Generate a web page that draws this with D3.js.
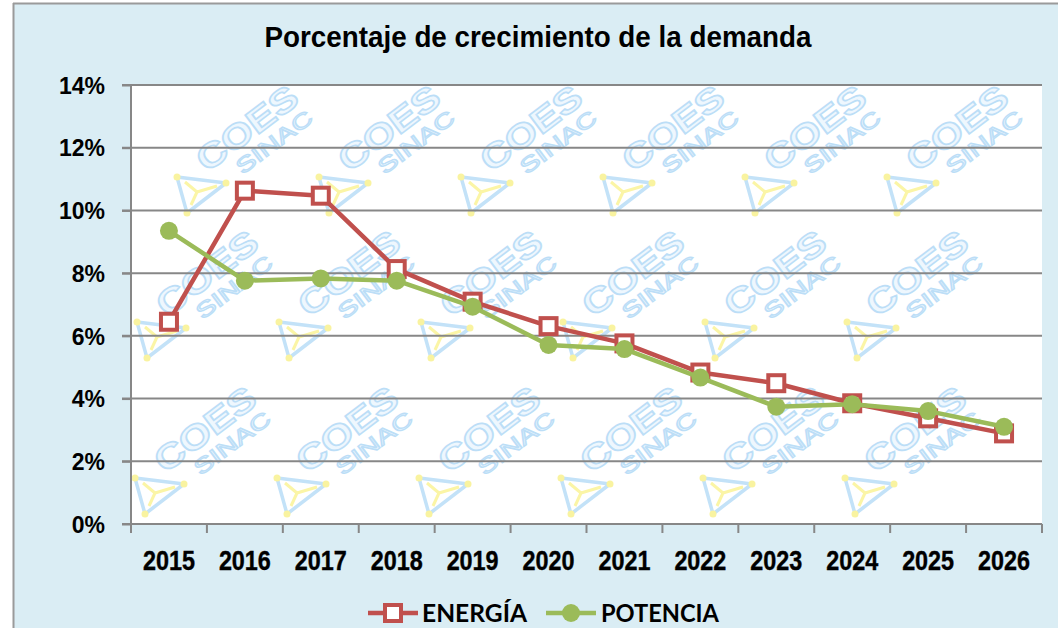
<!DOCTYPE html>
<html><head><meta charset="utf-8">
<script src="https://cdn.jsdelivr.net/npm/d3@7"></script>
<style>body{margin:0;background:#fff}svg{display:block}</style>
</head><body>
<svg id="chart" width="1058" height="628"></svg>
<script>
const title = "Porcentaje de crecimiento de la demanda";
const years = ["2015","2016","2017","2018","2019","2020","2021","2022","2023","2024","2025","2026"];
const energia = [6.45, 10.63, 10.47, 8.13, 7.09, 6.31, 5.76, 4.83, 4.49, 3.85, 3.37, 2.89];
const potencia = [9.35, 7.76, 7.83, 7.76, 6.93, 5.71, 5.58, 4.67, 3.74, 3.82, 3.60, 3.10];
const yTicks = [0, 2, 4, 6, 8, 10, 12, 14];
const seriesNames = ["ENERGÍA", "POTENCIA"];

const svg = d3.select("#chart");
const W = 1058, H = 628;
const m = {left: 131, right: 1042, top: 85, bottom: 524};
const red = "#c0504d", green = "#9bbb59", grid = "#878787";
const font = "Liberation Sans, Arial, sans-serif";

// outer panel
svg.append("rect").attr("x", 13).attr("y", 3).attr("width", W - 13).attr("height", H - 3)
  .attr("fill", "#daedf4");
svg.append("line").attr("x1", 13).attr("x2", W).attr("y1", 3.5).attr("y2", 3.5)
  .attr("stroke", "#9a9a9a").attr("stroke-width", 2);
svg.append("line").attr("x1", 13.5).attr("x2", 13.5).attr("y1", 3).attr("y2", H)
  .attr("stroke", "#9a9a9a").attr("stroke-width", 2);

const x = d3.scaleBand().domain(years).range([m.left, m.right]).padding(0);
const y = d3.scaleLinear().domain([0, 14]).range([m.bottom, m.top]);

// plot area
svg.append("rect").attr("x", m.left).attr("y", m.top).attr("width", m.right - m.left)
  .attr("height", m.bottom - m.top).attr("fill", "#fff");

// watermark (COES SINAC logo pattern)
const defs = svg.append("defs");
defs.append("clipPath").attr("id", "clip").append("rect")
  .attr("x", m.left).attr("y", m.top).attr("width", m.right - m.left).attr("height", m.bottom - m.top);
const wm = svg.append("g").attr("clip-path", "url(#clip)");
const rows = [{y: 177, x0: 177}, {y: 322, x0: 137}, {y: 478, x0: 135}];
rows.forEach(r => {
  for (let i = 0; i < 7; i++) {
    const tx = r.x0 + i * 142, ty = r.y;
    if (tx + 140 > m.right) continue;
    const g = wm.append("g").attr("transform", `translate(${tx},${ty})`);
    g.append("path").attr("d", "M0,0 L49,6 L10,36 Z")
      .attr("fill", "none").attr("stroke", "#c3e2f8").attr("stroke-width", 3.5)
      .attr("stroke-linejoin", "round");
    g.append("path").attr("d", "M8,5 L20,15 L40,9 M20,15 L14,28")
      .attr("fill", "none").attr("stroke", "#fbf5a6").attr("stroke-width", 3);
    [[0,0],[49,6],[10,36]].forEach(p => g.append("circle").attr("cx", p[0]).attr("cy", p[1])
      .attr("r", 3.5).attr("fill", "#f9f3a0"));
    g.append("text").attr("transform", "translate(70,-49) rotate(-37)")
      .attr("text-anchor", "middle").attr("dy", "0.35em").attr("font-family", font)
      .attr("font-size", 34).attr("font-weight", "bold").attr("fill", "#eef7fe")
      .attr("stroke", "#bcdef7").attr("stroke-width", 1.6)
      .attr("textLength", 118).attr("lengthAdjust", "spacingAndGlyphs").text("COES");
    g.append("text").attr("transform", "translate(97,-35) rotate(-37)")
      .attr("text-anchor", "middle").attr("dy", "0.35em").attr("font-family", font)
      .attr("font-size", 21).attr("fill", "#eef7fe")
      .attr("stroke", "#bcdef7").attr("stroke-width", 1.3)
      .attr("textLength", 90).attr("lengthAdjust", "spacingAndGlyphs").text("SINAC");
  }
});

// gridlines
svg.append("g").selectAll("line").data(yTicks.filter(d => d > 0)).join("line")
  .attr("x1", m.left - 9).attr("x2", m.right)
  .attr("y1", d => y(d)).attr("y2", d => y(d))
  .attr("stroke", grid).attr("stroke-width", 2);

// y axis
const yAxis = d3.axisLeft(y).tickValues(yTicks).tickSize(9).tickFormat(d => d + "%");
const gy = svg.append("g").attr("transform", `translate(${m.left},0)`).call(yAxis);
gy.select(".domain").attr("stroke", grid).attr("stroke-width", 2).attr("d", `M-9,${m.top}H0V${m.bottom + 9}`);
gy.selectAll(".tick line").attr("stroke", grid).attr("stroke-width", 2);
gy.selectAll(".tick text").attr("x", -26).attr("dy", "0.36em")
  .attr("font-family", font).attr("font-weight", "bold")
  .attr("font-size", 23).attr("fill", "#000");

// x axis
const xAxis = d3.axisBottom(x).tickSize(0).tickSizeOuter(0);
const gx = svg.append("g").attr("transform", `translate(0,${m.bottom})`).call(xAxis);
gx.select(".domain").attr("stroke", grid).attr("stroke-width", 2).attr("d", `M${m.left - 9},0H${m.right}`);
gx.selectAll(".tick text").attr("y", 46).attr("dy", 0)
  .attr("font-family", font).attr("font-weight", "bold")
  .attr("font-size", 28).attr("fill", "#000").attr("stroke", "#000").attr("stroke-width", 0.4)
  .attr("textLength", 52).attr("lengthAdjust", "spacingAndGlyphs");
const bounds = years.map(d => x(d)).concat([m.right]);
svg.append("g").selectAll("line").data(bounds).join("line")
  .attr("x1", d => d).attr("x2", d => d).attr("y1", m.bottom).attr("y2", m.bottom + 9)
  .attr("stroke", grid).attr("stroke-width", 2);

// lines
const cx = d => x(d) + x.bandwidth() / 2;
const line = d3.line().x((d, i) => cx(years[i])).y(d => y(d));
svg.append("path").datum(energia).attr("d", line).attr("fill", "none")
  .attr("stroke", red).attr("stroke-width", 4.5).attr("stroke-linejoin", "round");
svg.append("g").selectAll("rect").data(energia).join("rect")
  .attr("x", (d, i) => cx(years[i]) - 8).attr("y", d => y(d) - 8)
  .attr("width", 16).attr("height", 16).attr("fill", "#fff")
  .attr("stroke", red).attr("stroke-width", 4);
svg.append("path").datum(potencia).attr("d", line).attr("fill", "none")
  .attr("stroke", green).attr("stroke-width", 4.5).attr("stroke-linejoin", "round");
svg.append("g").selectAll("circle").data(potencia).join("circle")
  .attr("cx", (d, i) => cx(years[i])).attr("cy", d => y(d)).attr("r", 9)
  .attr("fill", green);

// title
svg.append("text").attr("x", 538).attr("y", 47).attr("text-anchor", "middle")
  .attr("font-family", font).attr("font-weight", "bold")
  .attr("font-size", 30).attr("fill", "#000")
  .attr("textLength", 547).attr("lengthAdjust", "spacingAndGlyphs").text(title);

// legend
const lg = svg.append("g");
lg.append("line").attr("x1", 368).attr("x2", 418).attr("y1", 613).attr("y2", 613)
  .attr("stroke", red).attr("stroke-width", 4.5);
lg.append("rect").attr("x", 385).attr("y", 605).attr("width", 16).attr("height", 16)
  .attr("fill", "#fff").attr("stroke", red).attr("stroke-width", 4);
lg.append("text").attr("x", 422).attr("y", 622).attr("font-family", "Lato, Open Sans, sans-serif")
  .attr("font-weight", "bold").attr("font-size", 25).attr("fill", "#000")
  .attr("textLength", 105).attr("lengthAdjust", "spacingAndGlyphs").text(seriesNames[0]);
lg.append("line").attr("x1", 546).attr("x2", 596).attr("y1", 613).attr("y2", 613)
  .attr("stroke", green).attr("stroke-width", 4.5);
lg.append("circle").attr("cx", 571).attr("cy", 613).attr("r", 9).attr("fill", green);
lg.append("text").attr("x", 601).attr("y", 622).attr("font-family", "Lato, Open Sans, sans-serif")
  .attr("font-weight", "bold").attr("font-size", 25).attr("fill", "#000")
  .attr("textLength", 118).attr("lengthAdjust", "spacingAndGlyphs").text(seriesNames[1]);
</script>
</body></html>
